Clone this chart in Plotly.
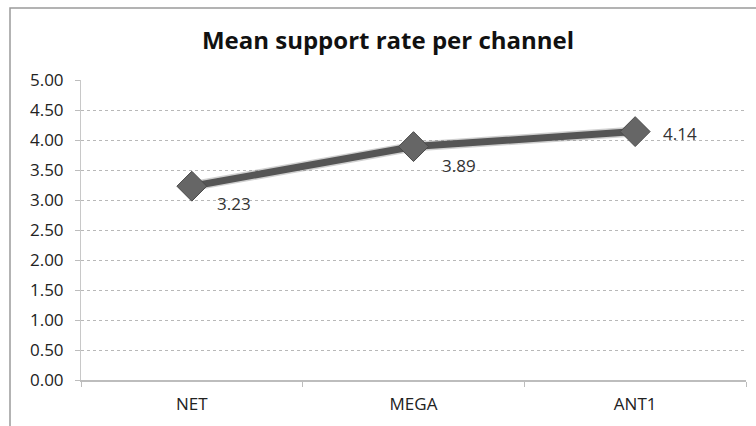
import plotly.graph_objects as go

categories = ["NET", "MEGA", "ANT1"]
values = [3.23, 3.89, 4.14]
labels = ["3.23", "3.89", "4.14"]
label_shift = [(42, -17), (45, -19), (45, -2)]

W, H = 756, 426
L, R, T, B = 81, 10, 80, 46
pw, ph = W - L - R, H - T - B

fig = go.Figure()
fig.add_trace(go.Scatter(
    x=categories, y=values, mode="lines",
    line=dict(color="rgba(120,120,120,0.35)", width=10),
    hoverinfo="skip", showlegend=False))
fig.add_trace(go.Scatter(
    x=categories, y=values, mode="lines+markers",
    line=dict(color="#555555", width=7),
    marker=dict(symbol="diamond", size=23, color="#666666",
                line=dict(color="#4a4a4a", width=1)),
    showlegend=False))

for c, v, t, (dx, dy) in zip(categories, values, labels, label_shift):
    fig.add_annotation(x=c, y=v, text=t, showarrow=False, xshift=dx, yshift=dy,
                       font=dict(family="Open Sans", size=17, color="#333"))

fig.update_layout(
    width=W, height=H,
    margin=dict(l=L, r=R, t=T, b=B),
    paper_bgcolor="white", plot_bgcolor="white",
    title=dict(text="<b>Mean support rate per channel</b>", x=388 / W, xanchor="center",
               y=1 - 41 / H, yanchor="middle",
               font=dict(family="Open Sans", size=24, color="#111")),
    xaxis=dict(type="category", range=[-0.5, 2.5], showgrid=False,
               showline=True, linecolor="#bdbdbd", linewidth=1.5,
               ticks="outside", tickson="boundaries", ticklen=5, tickcolor="#bdbdbd",
               ticklabelstandoff=8,
               tickfont=dict(family="Open Sans", size=17, color="#222")),
    yaxis=dict(range=[0, 5], dtick=0.5, tickformat=".2f",
               showgrid=True, gridcolor="#b8b8b8", gridwidth=1, griddash="dot",
               showline=True, linecolor="#c8c8c8", linewidth=1,
               ticks="outside", ticklen=5, tickcolor="#bdbdbd",
               ticklabelstandoff=8,
               zeroline=False,
               tickfont=dict(family="Open Sans", size=17, color="#222")),
    shapes=[dict(type="rect", xref="paper", yref="paper",
                 x0=(10 - L) / pw, x1=(W + 5 - L) / pw,
                 y0=-(H + 5 - (H - B)) / ph, y1=(H - B - 8) / ph,
                 line=dict(color="#9a9a9a", width=1.5), layer="below")],
)

fig.write_html("out.html")
